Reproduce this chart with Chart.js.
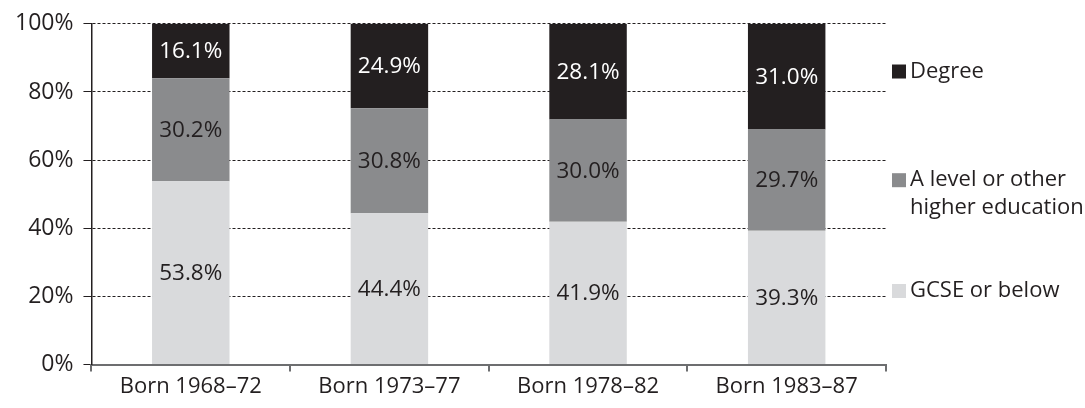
<!DOCTYPE html>
<html>
<head>
<meta charset="utf-8">
<script src="https://cdn.jsdelivr.net/npm/chart.js@4.4.1/dist/chart.umd.min.js"></script>
<style>
  html, body { margin: 0; padding: 0; background: #fff; }
  #wrap { width: 1085px; height: 408px; }
</style>
</head>
<body>
<div id="wrap"><canvas id="eduChart" width="1085" height="408"></canvas></div>
<script>
// Cohorts and share of each qualification level (%)
let cohorts = ["Born 1968–72", "Born 1973–77", "Born 1978–82", "Born 1983–87"];
let gcse = [53.8, 44.4, 41.9, 39.3];
let aLevel = [30.2, 30.8, 30.0, 29.7];
let degree = [16.1, 24.9, 28.1, 31.0];
let yTicks = [0, 20, 40, 60, 80, 100];

let ink = "#231f20";
let font = "'Open Sans', 'Noto Sans', sans-serif";

// Legend entries, drawn to the right of the plot (top to bottom)
let legendItems = [
    { lines: ["Degree"], color: "#231f20", at: 86 },
    { lines: ["A level or other", "higher education"], color: "#8a8b8d", at: 50 },
    { lines: ["GCSE or below"], color: "#d9dadc", at: 21.6 }
];

// Writes the value in the middle of every bar segment
const segmentLabels = {
    id: "segmentLabels",
    afterDatasetsDraw(chart) {
        let ctx = chart.ctx;
        ctx.save();
        ctx.font = "22.5px " + font;
        ctx.textAlign = "center";
        ctx.textBaseline = "middle";
        chart.data.datasets.forEach((ds, i) => {
            chart.getDatasetMeta(i).data.forEach((bar, j) => {
                let mid = (bar.y + bar.base) / 2;
                ctx.fillStyle = ds.labelColor;
                ctx.fillText(ds.data[j].toFixed(1) + "%", bar.x, mid + 1);
            });
        });
        ctx.restore();
    }
};

// Custom legend on the right side
const sideLegend = {
    id: "sideLegend",
    afterDraw(chart) {
        let ctx = chart.ctx;
        let y = chart.scales.y;
        let x0 = chart.chartArea.right + 6;
        ctx.save();
        ctx.font = "22px " + font;
        ctx.textBaseline = "middle";
        ctx.textAlign = "left";
        legendItems.forEach(item => {
            let cy = y.getPixelForValue(item.at);
            let top = cy - (item.lines.length - 1) * 14;
            ctx.fillStyle = item.color;
            ctx.fillRect(x0, top - 7, 14, 14);
            ctx.fillStyle = ink;
            item.lines.forEach((t, k) => {
                ctx.fillText(t, x0 + 18, top + k * 28);
            });
        });
        ctx.restore();
    }
};

let chart = new Chart(document.getElementById("eduChart").getContext("2d"), {
    type: "bar",
    data: {
        labels: cohorts,
        datasets: [
            { label: "GCSE or below", data: gcse, backgroundColor: "#d9dadc", labelColor: ink },
            { label: "A level or other higher education", data: aLevel, backgroundColor: "#8a8b8d", labelColor: ink },
            { label: "Degree", data: degree, backgroundColor: "#231f20", labelColor: "#ffffff" }
        ]
    },
    options: {
        responsive: false,
        animation: false,
        maintainAspectRatio: false,
        devicePixelRatio: 1,
        layout: { padding: { top: 5, right: 199, left: 5, bottom: 6 } },
        datasets: { bar: { barPercentage: 0.39, categoryPercentage: 1.0, borderWidth: 0 } },
        scales: {
            x: {
                stacked: true,
                grid: { offset: true, drawOnChartArea: false, drawTicks: true, tickLength: 7, color: "#6d6e70", lineWidth: 2 },
                border: { color: "#6d6e70", width: 2 },
                ticks: { color: ink, font: { size: 22, family: font }, padding: 2 }
            },
            y: {
                stacked: true,
                min: 0,
                max: 100,
                afterBuildTicks(scale) { scale.ticks = yTicks.map(v => ({ value: v })); },
                grid: { color: ink, lineWidth: 1, tickLength: 8, tickBorderDash: [] },
                border: { color: ink, width: 1.5, dash: [3, 2] },
                ticks: { color: ink, font: { size: 23, family: font }, padding: 10, callback: v => v + "%" }
            }
        },
        plugins: {
            legend: { display: false },
            tooltip: { enabled: false }
        }
    },
    plugins: [segmentLabels, sideLegend]
});
</script>
</body>
</html>
